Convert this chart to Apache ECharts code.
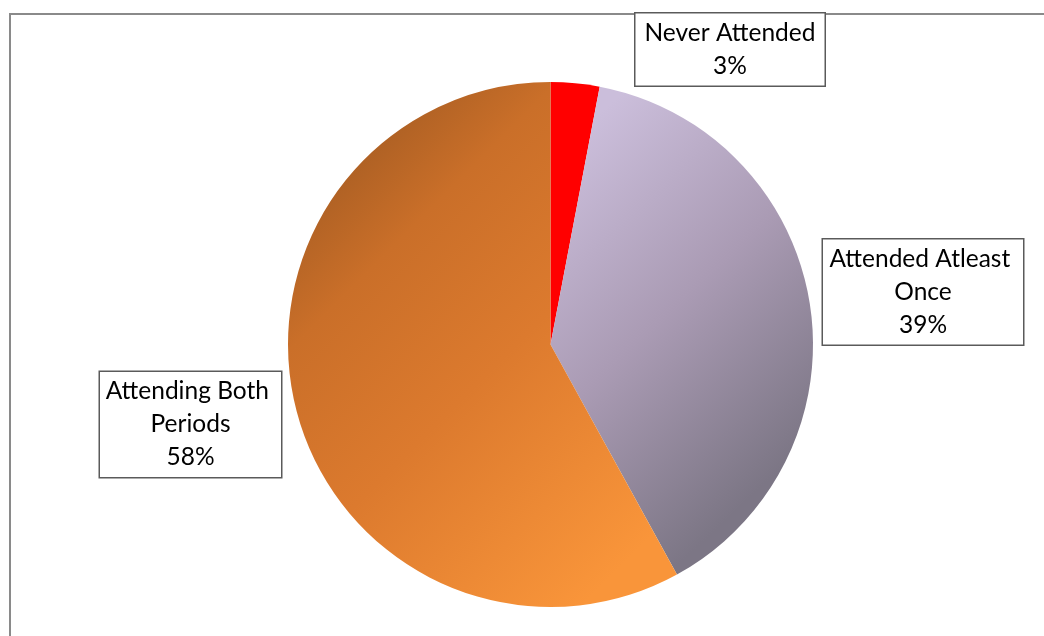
<!DOCTYPE html>
<html>
<head>
<meta charset="utf-8">
<title>Attendance</title>
<script src="https://cdn.jsdelivr.net/npm/echarts@6/dist/echarts.min.js"></script>
<style>
  html, body { margin: 0; padding: 0; background: #fff; }
  #chart { width: 1044px; height: 636px; }
</style>
</head>
<body>
<div id="chart"></div>
<script>
// Attendance categories and their shares (percent)
const categories = ['Never Attended', 'Attended Atleast Once', 'Attending Both Periods'];
const shares = [3, 39, 58];

// Label box placement (centre of each box) and box widths
const labelCentres = [[730, 49.5], [923, 292], [190.5, 424.5]];
const labelWidths = [183, 194, 175];

const sliceColors = [
  '#FF0000',
  {
    type: 'linear', x: 0, y: 0.15, x2: 1, y2: 0.72,
    colorStops: [
      { offset: 0, color: '#CBBEDB' },
      { offset: 0.5, color: '#AA9BB4' },
      { offset: 1, color: '#7C7685' }
    ]
  },
  {
    type: 'linear', x: 0, y: 0, x2: 1.05, y2: 0.78,
    colorStops: [
      { offset: 0.15, color: '#A95E23' },
      { offset: 0.33, color: '#CA6F29' },
      { offset: 0.6, color: '#DC7A2E' },
      { offset: 1, color: '#F9953A' }
    ]
  }
];

const chart = echarts.init(document.getElementById('chart'), null, { renderer: 'canvas' });

chart.setOption({
  animation: false,
  backgroundColor: '#ffffff',
  graphic: [{
    type: 'rect',
    shape: { x: 10, y: 14, width: 1200, height: 800 },
    style: { fill: 'none', stroke: '#8a8a8a', lineWidth: 2 },
    silent: true,
    z: 0
  }],
  series: [{
    type: 'pie',
    center: [550.5, 344.5],
    radius: 262.5,
    startAngle: 90,
    clockwise: true,
    avoidLabelOverlap: false,
    labelLine: { show: false },
    itemStyle: { borderWidth: 0 },
    label: {
      show: true,
      position: 'outside',
      formatter: '{b}\n{d}%',
      fontFamily: 'Lato, "Liberation Sans", sans-serif',
      fontSize: 24.5,
      lineHeight: 33,
      color: '#000',
      align: 'center',
      overflow: 'break',
      backgroundColor: '#ffffff',
      borderColor: '#5a5a5a',
      borderWidth: 1.5,
      padding: [5, 3, 1, 3]
    },
    labelLayout: function (params) {
      const c = labelCentres[params.dataIndex];
      return { x: c[0], y: c[1], align: 'center', verticalAlign: 'middle' };
    },
    data: categories.map(function (name, i) {
      return {
        name: name,
        value: shares[i],
        itemStyle: { color: sliceColors[i] },
        label: { width: labelWidths[i] }
      };
    }),
    z: 2
  }]
});
</script>
</body>
</html>
